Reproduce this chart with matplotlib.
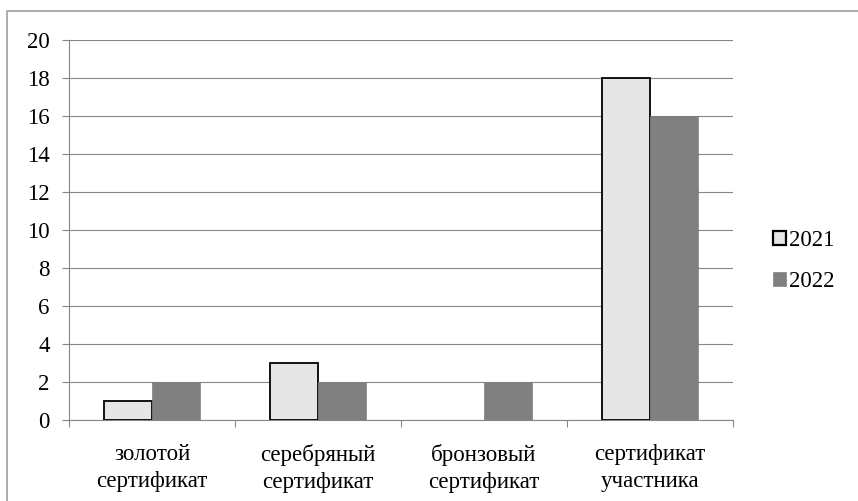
# coding: utf-8

import numpy as np
import matplotlib.pyplot as plt
from matplotlib.lines import Line2D

##############################
# データ
##############################
categories = ['золотой\nсертификат', 'серебряный\nсертификат',
              'бронзовый\nсертификат', 'сертификат\nучастника']
values_2021 = [1, 3, 0, 18]
values_2022 = [2, 2, 2, 16]
series_labels = ['2021', '2022']
y_ticks = [0, 2, 4, 6, 8, 10, 12, 14, 16, 18, 20]

plt.rcParams['font.family'] = ['Liberation Serif', 'DejaVu Serif']
FS = 16.5
GRID = '#868686'

fig = plt.figure(figsize=(8.58, 5.01), dpi=100)
W, H = 858, 501

# 外枠（上辺と左辺のみ見える）
fig.lines.append(Line2D([7 / W, 7 / W, 1], [0, 1 - 10.5 / H, 1 - 10.5 / H],
                        transform=fig.transFigure, color='#a6a6a6',
                        linewidth=1.3))

ax = fig.add_axes([69 / W, 1 - 420 / H, (733 - 69) / W, 380 / H])

x = np.arange(len(categories))
width = 0.29

# 高さ0の棒は枠線を描かない
lw_2021 = [1.3 if v > 0 else 0 for v in values_2021]
ax.bar(x - width / 2, values_2021, width, color='#e6e6e6',
       edgecolor='black', linewidth=lw_2021, label=series_labels[0], zorder=3)
ax.bar(x + width / 2, values_2022, width, color='#808080',
       edgecolor='#808080', linewidth=0.5, label=series_labels[1], zorder=3)

ax.set_xlim(-0.5, len(categories) - 0.5)
ax.set_ylim(0, 20)
ax.set_yticks(y_ticks)
ax.grid(axis='y', color=GRID, linewidth=0.8, zorder=0)

# X軸の目盛り（カテゴリ境界）
ax.set_xticks(np.arange(len(categories) + 1) - 0.5)
ax.set_xticklabels([])
ax.set_xticks(x, minor=True)
ax.set_xticklabels(categories, minor=True, fontsize=FS, linespacing=1.4)
ax.tick_params(axis='x', which='major', length=5, width=0.8, color=GRID,
               direction='out')
ax.tick_params(axis='x', which='minor', length=0, pad=17)
ax.tick_params(axis='y', length=5, width=0.8, color=GRID, labelsize=FS,
               pad=9)

for s in ['top', 'right']:
    ax.spines[s].set_visible(False)
for s in ['left', 'bottom']:
    ax.spines[s].set_color(GRID)
    ax.spines[s].set_linewidth(0.8)

# 凡例
leg = ax.legend(loc='center left', bbox_to_anchor=(773 / W, 1 - 261 / H),
                bbox_transform=fig.transFigure, frameon=False,
                fontsize=FS, handlelength=0.56, handleheight=0.56,
                handletextpad=0.13, labelspacing=0.85,
                borderaxespad=0, borderpad=0)
leg.legend_handles[0].set_linewidth(1.6)

fig.savefig('out.png', dpi=100)
plt.close()
